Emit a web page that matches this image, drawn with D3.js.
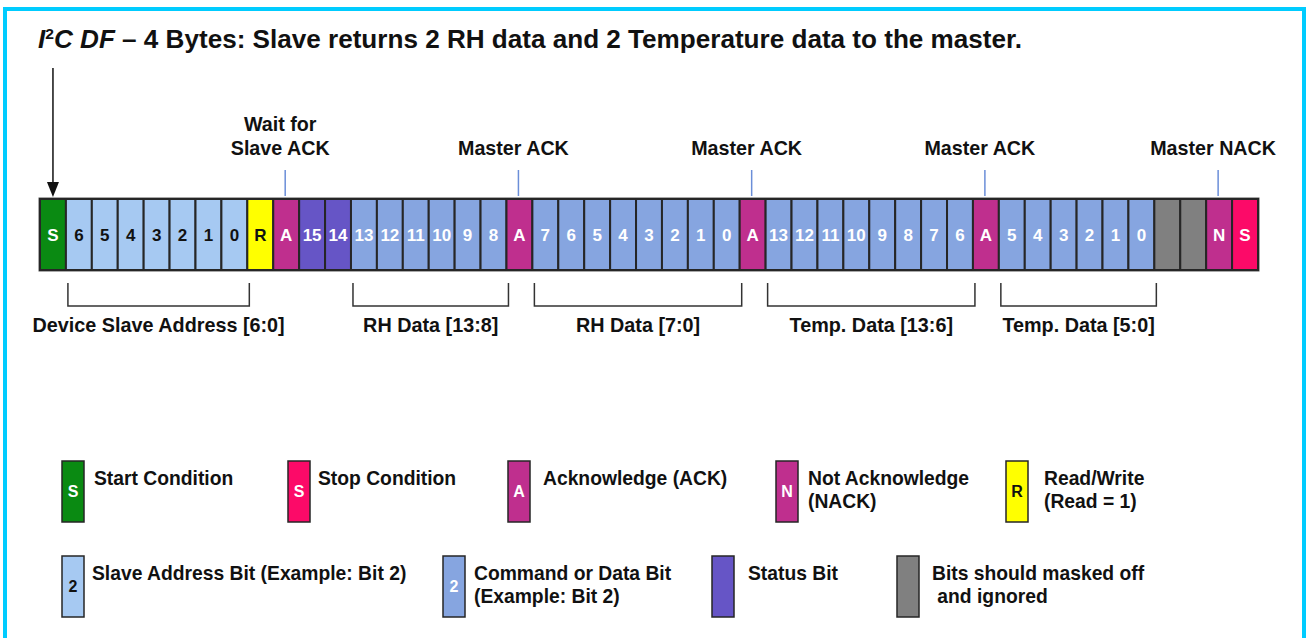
<!DOCTYPE html>
<html>
<head>
<meta charset="utf-8">
<script src="https://cdn.jsdelivr.net/npm/d3@7"></script>
<style>
  html, body { margin: 0; padding: 0; background: #fff; }
  svg { display: block; font-family: "Liberation Sans", Arial, sans-serif; }
</style>
</head>
<body>
<svg id="chart" width="1308" height="638"></svg>
<script>
// ---- data ----
const bitLabels = [
  "S", "6", "5", "4", "3", "2", "1", "0", "R", "A",
  "15", "14", "13", "12", "11", "10", "9", "8", "A",
  "7", "6", "5", "4", "3", "2", "1", "0", "A",
  "13", "12", "11", "10", "9", "8", "7", "6", "A",
  "5", "4", "3", "2", "1", "0", "", "", "N", "S"
]
const bitKinds = [
  "start", "addr", "addr", "addr", "addr", "addr", "addr", "addr", "rw", "ack",
  "status", "status", "data", "data", "data", "data", "data", "data", "ack",
  "data", "data", "data", "data", "data", "data", "data", "data", "ack",
  "data", "data", "data", "data", "data", "data", "data", "data", "ack",
  "data", "data", "data", "data", "data", "data", "mask", "mask", "nack", "stop"
]

// callouts above the bit row: bit index + text lines
const calloutBits = [9, 18, 27, 36, 45]
const calloutTexts = [["Wait for", "Slave ACK"], ["Master ACK"], ["Master ACK"], ["Master ACK"], ["Master NACK"]]

// brackets under the row: first / last bit index + label
const groupFirst = [1, 12, 19, 28, 37]
const groupLast = [7, 17, 26, 35, 42]
const groupLabels = ["Device Slave Address [6:0]", "RH Data [13:8]", "RH Data [7:0]", "Temp. Data [13:6]", "Temp. Data [5:0]"]

// legend
const legendKinds = ["start", "stop", "ack", "nack", "rw", "addr", "data", "status", "mask"]
const legendLetters = ["S", "S", "A", "N", "R", "2", "2", "", ""]
const legendTexts = [
  ["Start Condition"], ["Stop Condition"], ["Acknowledge (ACK)"],
  ["Not Acknowledge", "(NACK)"], ["Read/Write", "(Read = 1)"],
  ["Slave Address Bit (Example: Bit 2)"], ["Command or Data Bit", "(Example: Bit 2)"],
  ["Status Bit"], ["Bits should masked off", " and ignored"]
]

// ---- styles ----
const kindFill = {
  start: "#0a8a12", stop: "#fc0a68", ack: "#bf2f8e", nack: "#bf2f8e", rw: "#ffff00",
  addr: "#a6c9f2", data: "#86a5e0", status: "#6655c6", mask: "#808080"
}
const kindInk = {
  start: "#fff", stop: "#fff", ack: "#fff", nack: "#fff", rw: "#111",
  addr: "#111", data: "#fff", status: "#fff", mask: "#fff"
}

const svg = d3.select("#chart")

// cyan frame
svg.append("rect")
  .attr("x", 5).attr("y", 9)
  .attr("width", 1299).attr("height", 700)
  .attr("fill", "none")
  .attr("stroke", "#00ccff")
  .attr("stroke-width", 4)

// title
var title = svg.append("text")
  .attr("x", 38).attr("y", 48)
  .attr("font-size", 25)
  .attr("font-weight", "bold")
  .attr("fill", "#111")
  .attr("textLength", 984)
  .attr("lengthAdjust", "spacingAndGlyphs")
title.append("tspan").attr("font-style", "italic").text("I")
title.append("tspan").attr("font-size", 15).attr("dy", -9).text("2")
title.append("tspan").attr("font-style", "italic").attr("dy", 9).text("C DF")
title.append("tspan").text(" \u2013 4 Bytes: Slave returns 2 RH data and 2 Temperature data to the master.")

// bit row
const rowTop = 199, rowH = 71
const x = d3.scaleBand()
  .domain(d3.range(bitLabels.length))
  .range([40, 1258])

svg.append("rect")
  .attr("x", x(0)).attr("y", rowTop)
  .attr("width", x.range()[1] - x.range()[0]).attr("height", rowH)
  .attr("fill", "none").attr("stroke", "#555").attr("stroke-width", 3)

var cells = svg.append("g").attr("class", "cells")
  .selectAll("g")
  .data(bitLabels.map((l, i) => ({label: l, kind: bitKinds[i], i: i})))
  .join("g")

cells.append("rect")
  .attr("x", d => x(d.i)).attr("y", rowTop)
  .attr("width", x.bandwidth()).attr("height", rowH)
  .attr("fill", d => kindFill[d.kind])
  .attr("stroke", "#262626")
  .attr("stroke-width", 2)

cells.append("text")
  .attr("x", d => x(d.i) + x.bandwidth() / 2)
  .attr("y", rowTop + rowH / 2 + 6)
  .attr("text-anchor", "middle")
  .attr("font-size", 17)
  .attr("font-weight", "bold")
  .attr("fill", d => kindInk[d.kind])
  .text(d => d.label)

// start arrow
svg.append("line")
  .attr("x1", x(0) + x.bandwidth() / 2).attr("x2", x(0) + x.bandwidth() / 2)
  .attr("y1", 68).attr("y2", 184)
  .attr("stroke", "#111").attr("stroke-width", 1.5)
svg.append("path")
  .attr("d", d3.line()([
    [x(0) + x.bandwidth() / 2 - 6, 182],
    [x(0) + x.bandwidth() / 2 + 6, 182],
    [x(0) + x.bandwidth() / 2, 197]
  ]) + "Z")
  .attr("fill", "#111")

// callouts
calloutBits.forEach(function (b, k) {
  var cx = x(b) + x.bandwidth() / 2
  svg.append("line")
    .attr("x1", cx - 1).attr("x2", cx - 1)
    .attr("y1", 170).attr("y2", 196)
    .attr("stroke", "#6b8ed8").attr("stroke-width", 1.5)
  var lines = calloutTexts[k]
  var t = svg.append("text")
    .attr("text-anchor", "middle")
    .attr("font-size", 19.7)
    .attr("font-weight", "bold")
    .attr("fill", "#111")
  lines.forEach(function (s, j) {
    t.append("tspan")
      .attr("x", cx - 6)
      .attr("y", 155 - (lines.length - 1 - j) * 24)
      .text(s)
  })
})

// brackets + labels
groupLabels.forEach(function (lab, k) {
  var x0 = x(groupFirst[k]) + 2
  var x1 = x(groupLast[k]) + x.bandwidth() + 2
  svg.append("path")
    .attr("d", d3.line()([[x0, 283], [x0, 306], [x1, 306], [x1, 283]]))
    .attr("fill", "none")
    .attr("stroke", "#333")
    .attr("stroke-width", 1.5)
  svg.append("text")
    .attr("x", (x0 + x1) / 2)
    .attr("y", 332)
    .attr("text-anchor", "middle")
    .attr("font-size", 19.8)
    .attr("font-weight", "bold")
    .attr("fill", "#111")
    .text(lab)
})

// legend layout
const legendSwatchX = [62, 288, 508, 776, 1006, 62, 443, 712, 897]
const legendTextX = [94, 318, 543, 808, 1044, 92, 474, 748, 932]
const legendTop = [461, 461, 461, 461, 461, 556, 556, 556, 556]

legendKinds.forEach(function (kind, k) {
  var g = svg.append("g").attr("class", "legend-item")
  g.append("rect")
    .attr("x", legendSwatchX[k]).attr("y", legendTop[k])
    .attr("width", 22).attr("height", 61)
    .attr("fill", kindFill[kind])
    .attr("stroke", "#262626").attr("stroke-width", 1.5)
  g.append("text")
    .attr("x", legendSwatchX[k] + 11)
    .attr("y", legendTop[k] + 36)
    .attr("text-anchor", "middle")
    .attr("font-size", 16)
    .attr("font-weight", "bold")
    .attr("fill", kindInk[kind])
    .text(legendLetters[k])
  var t = g.append("text")
    .attr("font-size", 19.3)
    .attr("font-weight", "bold")
    .attr("fill", "#111")
    .attr("xml:space", "preserve")
    .style("white-space", "pre")
  legendTexts[k].forEach(function (s, j) {
    t.append("tspan")
      .attr("x", legendTextX[k])
      .attr("y", legendTop[k] + 24 + j * 23)
      .text(s)
  })
})
</script>
</body>
</html>
